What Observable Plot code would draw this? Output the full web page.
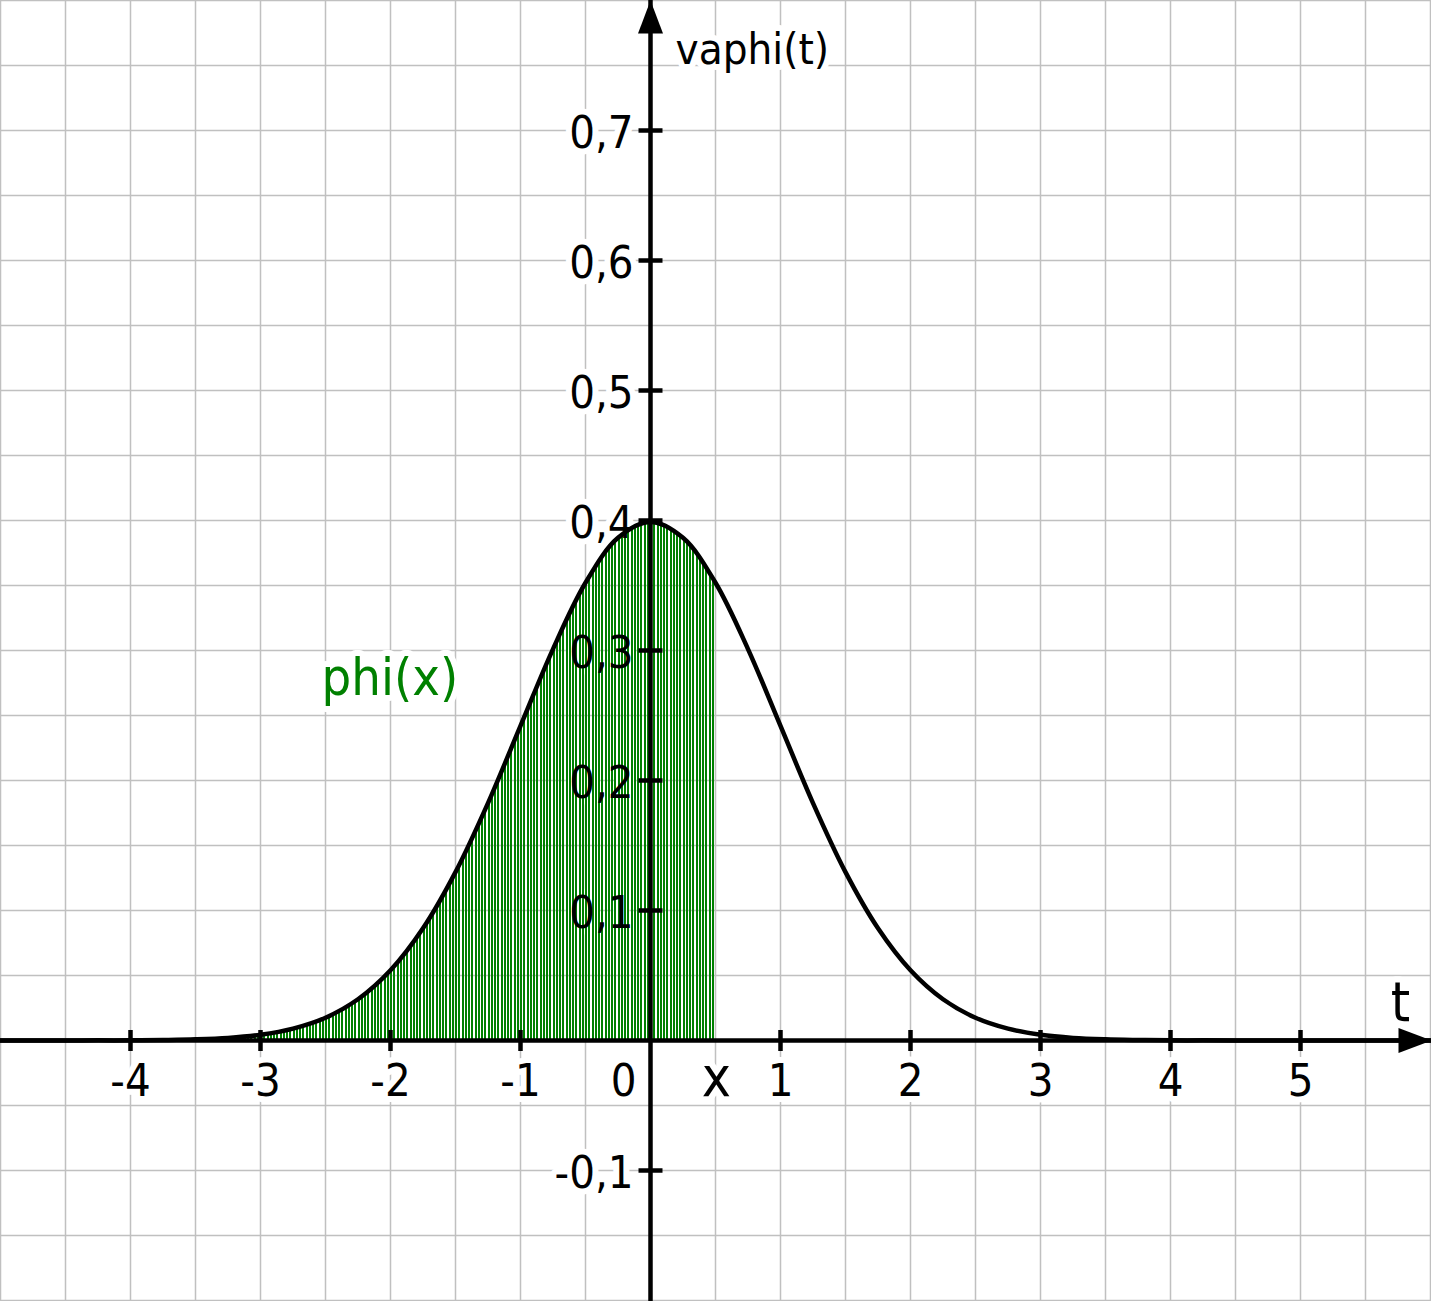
<!DOCTYPE html>
<html><head><meta charset="utf-8">
<script src="https://cdn.jsdelivr.net/npm/d3@7"></script>
<script src="https://cdn.jsdelivr.net/npm/@observablehq/plot@0.6"></script>
<style>body{margin:0;background:#fff;} svg{display:block;}</style>
</head><body><div id="chart"></div>
<script>
// ---- data ----
const tValues = [-5,-4.75,-4.5,-4.25,-4,-3.75,-3.5,-3.25,-3,-2.75,-2.5,-2.25,-2,-1.75,-1.5,-1.25,-1,-0.75,-0.5,-0.25,0,0.25,0.5,0.75,1,1.25,1.5,1.75,2,2.25,2.5,2.75,3,3.25,3.5,3.75,4,4.25,4.5,4.75,5,5.25,5.5,5.75,6];
const phiValues = [0,0,0,0.0001,0.0001,0.0004,0.0009,0.002,0.0044,0.0091,0.0175,0.0317,0.054,0.0863,0.1295,0.1826,0.242,0.3011,0.3521,0.3867,0.3989,0.3867,0.3521,0.3011,0.242,0.1826,0.1295,0.0863,0.054,0.0317,0.0175,0.0091,0.0044,0.002,0.0009,0.0004,0.0001,0.0001,0,0,0,0,0,0,0];
const hatchLimit = 0.5;
const xTickValues = [-4,-3,-2,-1,1,2,3,4,5];
const xTickLabels = ["-4","-3","-2","-1","1","2","3","4","5"];
const originValue = [0];
const originLabel = "0";
const yTickValues = [-0.1,0.1,0.2,0.3,0.4,0.5,0.6,0.7];
const yTickLabels = ["-0,1","0,1","0,2","0,3","0,4","0,5","0,6","0,7"];
const xGridValues = [-5,-4.5,-4,-3.5,-3,-2.5,-2,-1.5,-1,-0.5,0,0.5,1,1.5,2,2.5,3,3.5,4,4.5,5,5.5,6];
const yGridValues = [-0.2,-0.15,-0.1,-0.05,0,0.05,0.1,0.15,0.2,0.25,0.3,0.35,0.4,0.45,0.5,0.55,0.6,0.65,0.7,0.75,0.8];
const xAxisTitle = "t";
const yAxisTitle = "vaphi(t)";
const limitLabel = "x";
const areaLabel = "phi(x)";

// ---- tables ----
const curve = tValues.map((t, i) => ({t, v: phiValues[i]}));
const hatched = curve.filter(d => d.t <= hatchLimit);
const xTicks = xTickValues.map((t, i) => ({t, label: xTickLabels[i]}));
const yTicks = yTickValues.map((v, i) => ({v, label: yTickLabels[i]}));

const W = 1431, H = 1301;
const xDomain = [-5, 6.00769];
const yDomain = [-0.200769, 0.8];
const FONT = '"DejaVu Sans Condensed", "DejaVu Sans", sans-serif';
const GREEN = "#008000";

const arrowHead = {draw(ctx) { ctx.moveTo(0, 0); ctx.lineTo(12.5, 33); ctx.lineTo(-12.5, 33); ctx.closePath(); }};
const vTick = {draw(ctx) { ctx.moveTo(0, -10.5); ctx.lineTo(0, 10.5); }};
const hTick = {draw(ctx) { ctx.moveTo(-12, 0); ctx.lineTo(12, 0); }};

function labels(halo) {
  const base = halo ? {fill: "white", stroke: "white", strokeWidth: 12, strokeLinejoin: "round"} : {};
  return [
    Plot.text(xTicks, {x: "t", y: () => 0, text: "label", textAnchor: "middle", lineAnchor: "bottom", dy: 55, fontSize: 45, fontFamily: FONT, fill: "black", ...base}),
    Plot.text(originValue, {x: d => d, y: () => 0, text: () => originLabel, textAnchor: "end", lineAnchor: "bottom", dx: -14, dy: 55, fontSize: 45, fontFamily: FONT, fill: "black", ...base}),
    Plot.text(yTicks, {x: () => 0, y: "v", text: "label", textAnchor: "end", lineAnchor: "bottom", dx: -17, dy: 17, fontSize: 45, fontFamily: FONT, fill: "black", ...base}),
    Plot.text([0], {x: () => 0, y: () => yDomain[1], text: () => yAxisTitle, textAnchor: "start", lineAnchor: "bottom", dx: 25, dy: 63, fontSize: 43.5, fontFamily: FONT, fill: "black", ...base}),
    Plot.text([0], {x: () => xDomain[1], y: () => 0, text: () => xAxisTitle, textAnchor: "middle", lineAnchor: "bottom", dx: -31, dy: -20, fontSize: 55, fontFamily: FONT, fill: "black", ...base}),
    Plot.text([hatchLimit], {x: d => d, y: () => 0, text: () => limitLabel, textAnchor: "middle", lineAnchor: "bottom", dx: 1, dy: 55, fontSize: 55, fontFamily: FONT, fill: "black", ...base}),
    Plot.text([{t: -2.53, v: 0.2654}], {x: "t", y: "v", text: () => areaLabel, textAnchor: "start", lineAnchor: "bottom", fontSize: 52, fontFamily: FONT, fill: GREEN, ...base})
  ];
}

const svg = Plot.plot({
  width: W, height: H,
  marginTop: 0, marginRight: 0, marginBottom: 0, marginLeft: 0,
  x: {domain: xDomain, axis: null},
  y: {domain: yDomain, axis: null},
  style: {background: "white", fontFamily: FONT},
  marks: [
    Plot.gridX(xGridValues, {stroke: "#c0c0c0", strokeOpacity: 1, strokeWidth: 1.5}),
    Plot.gridY(yGridValues, {stroke: "#c0c0c0", strokeOpacity: 1, strokeWidth: 1.5}),
    ...labels(true),
    Plot.areaY(hatched, {x: "t", y: "v", fill: "url(#hatch)", curve: "catmull-rom"}),
    Plot.ruleY([0], {stroke: "black", strokeWidth: 4.5}),
    Plot.ruleX([0], {stroke: "black", strokeWidth: 4.5}),
    Plot.line(curve, {x: "t", y: "v", stroke: "black", strokeWidth: 4.5, curve: "catmull-rom"}),
    Plot.dot(xTicks, {x: "t", y: () => 0, symbol: vTick, stroke: "black", strokeWidth: 4.5, fill: "none"}),
    Plot.dot(yTicks, {x: () => 0, y: "v", symbol: hTick, stroke: "black", strokeWidth: 4.5, fill: "none"}),
    Plot.dot([0], {x: () => 0, y: () => yDomain[1], symbol: arrowHead, fill: "black", stroke: "none"}),
    Plot.dot([0], {x: () => xDomain[1], y: () => 0, symbol: arrowHead, rotate: 90, fill: "black", stroke: "none"}),
    ...labels(false)
  ]
});

const NS = "http://www.w3.org/2000/svg";
const defs = document.createElementNS(NS, "defs");
const pat = document.createElementNS(NS, "pattern");
pat.setAttribute("id", "hatch");
pat.setAttribute("patternUnits", "userSpaceOnUse");
pat.setAttribute("x", "0");
pat.setAttribute("y", "0");
pat.setAttribute("width", "13");
pat.setAttribute("height", "20");
for (const off of [0, 3, 6.5, 9.5]) {
  const r = document.createElementNS(NS, "rect");
  r.setAttribute("x", String(off)); r.setAttribute("y", "0");
  r.setAttribute("width", "2"); r.setAttribute("height", "20");
  r.setAttribute("fill", GREEN);
  r.setAttribute("shape-rendering", "crispEdges");
  pat.appendChild(r);
}
defs.appendChild(pat);
svg.insertBefore(defs, svg.firstChild);
document.getElementById("chart").append(svg);
</script>
</body></html>
